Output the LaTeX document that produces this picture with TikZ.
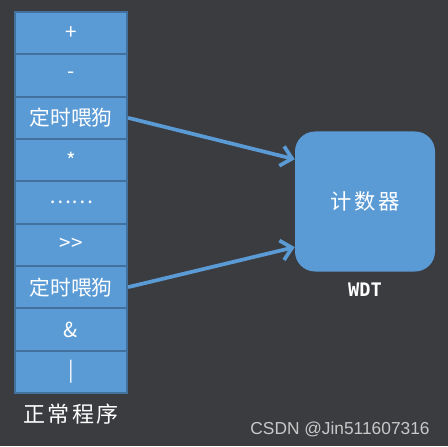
\documentclass[tikz,border=0pt]{standalone}
\usepackage{fontspec}
\usetikzlibrary{positioning,arrows.meta}
\newfontfamily\cjk{Noto Sans CJK SC}
\newfontfamily\cjkwide[LetterSpace=12]{Noto Sans CJK SC}
\newfontfamily\wdtfont{DejaVu Sans Mono}
\newfontfamily\markfont{Liberation Sans}
\definecolor{pagebg}{RGB}{59,60,64}
\definecolor{cellblue}{RGB}{91,155,213}
\definecolor{cellline}{RGB}{65,113,156}
\definecolor{markgray}{RGB}{200,200,200}
\tikzset{
  prog cell/.style={draw=cellline,line width=1.6pt,fill=cellblue,minimum width=84pt,
    minimum height=31.75pt,inner sep=0pt,text=white,font=\cjk\fontsize{15.5}{18}\selectfont},
  counter box/.style={fill=cellblue,rounded corners=15pt,minimum width=105pt,
    minimum height=105pt,text=white,font=\cjkwide\fontsize{16}{19}\selectfont},
  feed arrow/.style={draw=cellblue,line width=2.8pt,-{Straight Barb[length=8pt,width=15pt]}},
  white label/.style={text=white,inner sep=0pt}
}

\begin{document}
\begin{tikzpicture}[x=0.75pt,y=0.75pt]
  \fill[pagebg] (0,0) rectangle (448,446);
  \foreach \i/\txt in {1/+,2/-,3/定时喂狗,4/*,5/……,6/>\kern0pt>,7/定时喂狗,8/\&,9/|}
    \node[prog cell] (c\i) at (71,{434-42.33*(\i-0.5)}) {\txt};
  \node[white label,below=7pt of c9,font=\cjkwide\fontsize{16.5}{19}\selectfont] (prog) {正常程序};
  \node[counter box] (wdt) at (365,244.5) {计数器};
  \node[white label,below=8pt of wdt,font=\wdtfont\bfseries\fontsize{14}{16}\selectfont] (wdtname) {WDT};
  \draw[feed arrow] (c3.east) -- (wdt.149);
  \draw[feed arrow] (c7.east) -- (wdt.213);
  \node[text=markgray,font=\markfont\fontsize{13}{15}\selectfont] (mark) at (340,17) {CSDN @Jin511607316};
\end{tikzpicture}
\end{document}
